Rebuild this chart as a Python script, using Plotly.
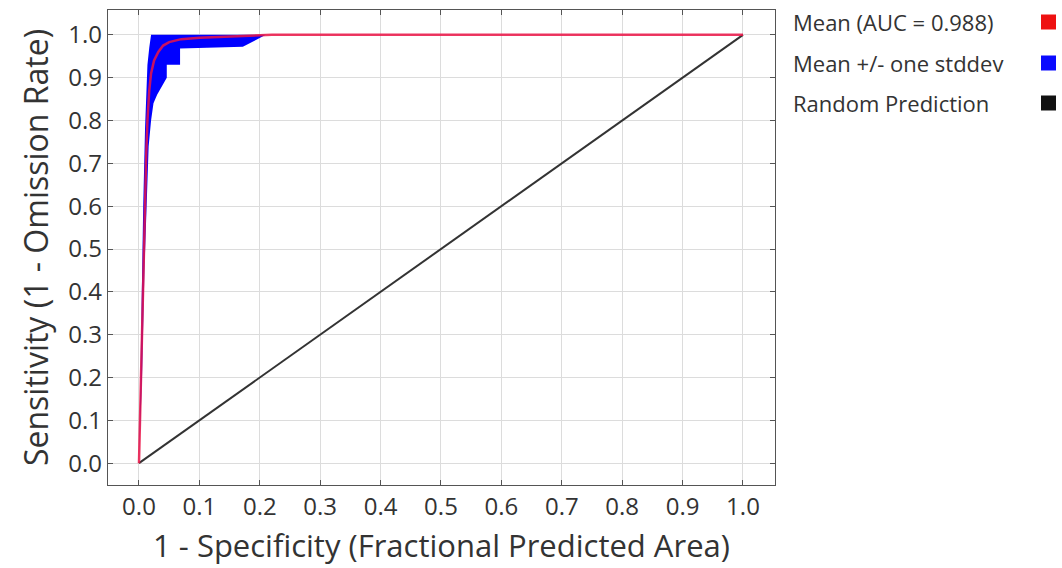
import plotly.graph_objects as go

# Mean ROC curve
mean_fpr = [0.0, 0.003, 0.006, 0.009, 0.012, 0.014, 0.017, 0.020, 0.025, 0.032, 0.040, 0.050, 0.070, 0.100, 0.150, 0.200, 0.220, 1.0]
mean_tpr = [0.0, 0.20, 0.40, 0.58, 0.72, 0.80, 0.87, 0.91, 0.94, 0.96, 0.975, 0.983, 0.990, 0.993, 0.996, 0.999, 1.0, 1.0]

# Upper bound of +/- one stddev band
upper_fpr = [0.0, 0.003, 0.007, 0.010, 0.012, 0.014, 0.017, 0.020, 1.0]
upper_tpr = [0.0, 0.30, 0.60, 0.78, 0.86, 0.93, 0.97, 1.0, 1.0]

# Lower bound of band
lower_fpr = [0.0, 0.005, 0.009, 0.013, 0.016, 0.020, 0.024, 0.030, 0.038, 0.046, 0.046, 0.068, 0.068, 0.120, 0.172, 0.210, 1.0]
lower_tpr = [0.0, 0.20, 0.45, 0.65, 0.74, 0.80, 0.84, 0.86, 0.88, 0.90, 0.93, 0.93, 0.968, 0.970, 0.972, 1.0, 1.0]

random_x = [0.0, 1.0]
random_y = [0.0, 1.0]

ticks = [round(i * 0.1, 1) for i in range(11)]
tick_text = [f"{t:.1f}" for t in ticks]

legend_labels = ["Mean (AUC = 0.988)", "Mean +/- one stddev", "Random Prediction"]
legend_colors = ["#ee1111", "#0a0aff", "#111111"]

FONT = "Open Sans, Noto Sans, sans-serif"

fig = go.Figure()
fig.add_trace(go.Scatter(x=lower_fpr, y=lower_tpr, mode="lines", line=dict(width=0, color="#0000ff"),
                         showlegend=False, hoverinfo="skip"))
fig.add_trace(go.Scatter(x=upper_fpr, y=upper_tpr, mode="lines", line=dict(width=0, color="#0000ff"),
                         fill="tonexty", fillcolor="#0000ff", showlegend=False, hoverinfo="skip"))
fig.add_trace(go.Scatter(x=random_x, y=random_y, mode="lines", line=dict(width=2, color="#333333"),
                         showlegend=False))
fig.add_trace(go.Scatter(x=mean_fpr, y=mean_tpr, mode="lines", line=dict(width=2.5, color="rgba(235,20,70,0.85)"),
                         showlegend=False))

axis_common = dict(
    tickvals=ticks, ticktext=tick_text, ticks="inside", ticklen=5, tickcolor="#555555",
    showline=True, linecolor="#555555", linewidth=1.2, mirror="ticks",
    showgrid=True, gridcolor="#dcdcdc", gridwidth=1, zeroline=False,
    tickfont=dict(family=FONT, size=24, color="#333333"),
)

fig.update_xaxes(range=[-0.0513, 1.053], title=dict(text="1 - Specificity (Fractional Predicted Area)",
                 font=dict(family=FONT, size=31, color="#333333"), standoff=14), **axis_common)
fig.update_yaxes(range=[-0.051, 1.058], title=dict(text="Sensitivity (1 - Omission Rate)",
                 font=dict(family=FONT, size=32, color="#333333"), standoff=10), **axis_common)

annotations = []
shapes = []
row_y = [22, 63, 103]
for lbl, col, py in zip(legend_labels, legend_colors, row_y):
    yp = (485 - py) / 475
    annotations.append(dict(text=lbl, xref="paper", yref="paper", x=(791 - 108) / 667, y=yp,
                            xanchor="left", yanchor="middle", showarrow=False,
                            font=dict(family=FONT, size=22, color="#333333")))
    shapes.append(dict(type="rect", xref="paper", yref="paper",
                       x0=(1041 - 108) / 667, x1=(1056 - 108) / 667,
                       y0=(485 - py - 7.5) / 475, y1=(485 - py + 7.5) / 475,
                       fillcolor=col, line=dict(width=0)))

fig.update_layout(
    width=1062, height=568,
    margin=dict(l=108, r=287, t=10, b=83),
    plot_bgcolor="white", paper_bgcolor="white",
    annotations=annotations, shapes=shapes, showlegend=False,
)

fig.write_html("out.html")
